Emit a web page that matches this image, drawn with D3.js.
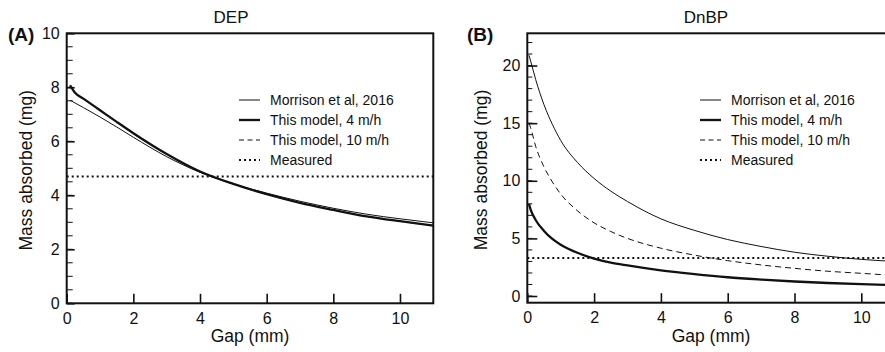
<!DOCTYPE html>
<html>
<head>
<meta charset="utf-8">
<script src="https://cdn.jsdelivr.net/npm/d3@7"></script>
<style>
  body { margin: 0; background: #fff; }
  svg { display: block; font-family: "Liberation Sans", Arial, sans-serif; }
</style>
</head>
<body>
<svg id="chart" width="885" height="352"></svg>
<script>
// Panel A (DEP)
const gapA = [0.1, 0.25, 0.5, 1, 1.5, 2, 3, 4, 5, 6, 7, 8, 9, 10, 11];
const morrisonA = [7.52, 7.42, 7.25, 6.90, 6.53, 6.15, 5.43, 4.85, 4.42, 4.08, 3.78, 3.52, 3.30, 3.13, 2.98];
const model4A = [8.07, 7.80, 7.58, 7.15, 6.72, 6.30, 5.53, 4.88, 4.42, 4.04, 3.72, 3.46, 3.22, 3.04, 2.88];
const model10A = [8.07, 7.80, 7.58, 7.15, 6.72, 6.30, 5.53, 4.88, 4.42, 4.04, 3.72, 3.46, 3.22, 3.04, 2.88];
const measuredA = 4.7;

// Panel B (DnBP)
const gapB = [0.05, 0.1, 0.25, 0.5, 0.75, 1, 1.5, 2, 2.5, 3, 4, 5, 6, 7, 8, 9, 10, 11];
const morrisonB = [20.9, 20.4, 18.8, 16.6, 14.9, 13.5, 11.6, 10.2, 9.1, 8.2, 6.7, 5.7, 4.9, 4.3, 3.8, 3.45, 3.18, 3.0];
const model4B = [8.0, 7.5, 6.6, 5.65, 4.95, 4.45, 3.75, 3.25, 2.9, 2.65, 2.22, 1.9, 1.63, 1.43, 1.26, 1.13, 1.03, 0.95];
const model10B = [15.0, 14.6, 13.0, 11.2, 9.9, 8.85, 7.4, 6.35, 5.6, 5.0, 4.15, 3.55, 3.07, 2.7, 2.4, 2.15, 1.97, 1.78];
const measuredB = 3.3;

const xTicks = [0, 2, 4, 6, 8, 10];
const yTicksA = [0, 2, 4, 6, 8, 10];
const yTicksB = [0, 5, 10, 15, 20];
const legendLabels = ["Morrison et al, 2016", "This model, 4 m/h", "This model, 10 m/h", "Measured"];

const lineStyles = [
    { width: 1, dash: null },
    { width: 2.3, dash: null },
    { width: 1, dash: "6,4" },
    { width: 2, dash: "2,3" }
];

const svg = d3.select("#chart");
const ink = "#111";

const Panel = (opts) => {
    const x = d3.scaleLinear().domain([0, 11]).range([opts.left, opts.right]);
    const y = d3.scaleLinear().domain(opts.yDomain).range([opts.bottom, opts.top]);
    const g = svg.append("g");

    const clipId = "clip" + opts.label;
    svg.append("clipPath").attr("id", clipId)
        .append("rect")
        .attr("x", opts.left).attr("y", opts.top)
        .attr("width", opts.right - opts.left).attr("height", opts.bottom - opts.top);

    // minor y ticks
    g.selectAll(".minor")
        .data(opts.minorTicks)
        .enter().append("line")
        .attr("x1", opts.left).attr("x2", opts.left + opts.minorLen)
        .attr("y1", d => y(d)).attr("y2", d => y(d))
        .attr("stroke", ink).attr("stroke-width", 1);

    const yAxis = g.append("g")
        .attr("transform", `translate(${opts.left},0)`)
        .call(d3.axisLeft(y).tickValues(opts.yTicks).tickSizeInner(-opts.majorLen).tickSizeOuter(0).tickPadding(7));
    yAxis.select(".domain").remove();
    yAxis.selectAll("line").attr("stroke", ink).attr("stroke-width", 1.6);
    yAxis.selectAll("text").attr("fill", ink).style("font-size", "16px").style("font-family", "inherit");

    const xAxis = g.append("g")
        .attr("transform", `translate(0,${opts.bottom})`)
        .call(d3.axisBottom(x).tickValues(xTicks).tickSizeInner(-9.5).tickSizeOuter(0).tickPadding(9));
    xAxis.select(".domain").remove();
    xAxis.selectAll("line").attr("stroke", ink).attr("stroke-width", 1.6);
    xAxis.selectAll("text").attr("fill", ink).style("font-size", "16px").style("font-family", "inherit");

    const line = d3.line()
        .x(d => x(d[0]))
        .y(d => y(d[1]))
        .curve(d3.curveMonotoneX);

    const plot = g.append("g").attr("clip-path", `url(#${clipId})`);
    const seriesOrder = [2, 0, 1];
    seriesOrder.forEach(i => {
        const values = opts.series[i];
        plot.append("path")
            .datum(opts.gap.map((gp, k) => [gp, values[k]]))
            .attr("d", line)
            .attr("fill", "none")
            .attr("stroke", ink)
            .attr("stroke-width", lineStyles[i].width)
            .attr("stroke-dasharray", lineStyles[i].dash);
    });
    plot.append("line")
        .attr("x1", opts.left).attr("x2", opts.right)
        .attr("y1", y(opts.measured)).attr("y2", y(opts.measured))
        .attr("stroke", ink).attr("stroke-width", 2).attr("stroke-dasharray", "2,3");

    // frame
    g.append("rect")
        .attr("x", opts.left).attr("y", opts.top)
        .attr("width", opts.right - opts.left).attr("height", opts.bottom - opts.top)
        .attr("fill", "none").attr("stroke", ink).attr("stroke-width", 2);

    // legend
    legendLabels.forEach((lab, i) => {
        const ly = opts.legendY + i * 20;
        g.append("line")
            .attr("x1", opts.legendX).attr("x2", opts.legendX + 21)
            .attr("y1", ly).attr("y2", ly)
            .attr("stroke", ink)
            .attr("stroke-width", i === 3 ? 2 : lineStyles[i].width)
            .attr("stroke-dasharray", i === 2 ? "5,3.5" : lineStyles[i].dash);
        g.append("text")
            .attr("x", opts.legendX + 31).attr("y", ly + 5)
            .attr("fill", ink)
            .style("font-size", "14px")
            .text(lab);
    });

    // texts
    g.append("text")
        .attr("x", opts.titleX).attr("y", 23)
        .attr("text-anchor", "middle").attr("fill", ink)
        .style("font-size", "17px")
        .text(opts.title);
    g.append("text")
        .attr("x", opts.labelX).attr("y", 41)
        .attr("fill", ink)
        .style("font-size", "19px").style("font-weight", "bold")
        .text(`(${opts.label})`);
    g.append("text")
        .attr("x", (opts.left + opts.right) / 2).attr("y", 342)
        .attr("text-anchor", "middle").attr("fill", ink)
        .style("font-size", "17.5px")
        .text("Gap (mm)");
    g.append("text")
        .attr("transform", `translate(${opts.yTitleX},${(opts.top + opts.bottom) / 2 + 2}) rotate(-90)`)
        .attr("text-anchor", "middle").attr("fill", ink)
        .style("font-size", "17.5px")
        .text("Mass absorbed (mg)");
};

Panel({
    label: "A", title: "DEP",
    left: 66.7, right: 433.3, top: 33.3, bottom: 303.3,
    yDomain: [0, 10], yTicks: yTicksA, minorTicks: d3.range(0, 10.01, 0.5),
    majorLen: 8, minorLen: 6,
    gap: gapA, series: [morrisonA, model4A, model10A], measured: measuredA,
    legendX: 239, legendY: 100, titleX: 231, labelX: 8, yTitleX: 32
});

Panel({
    label: "B", title: "DnBP",
    left: 527.3, right: 894.7, top: 33.3, bottom: 302.7,
    yDomain: [-0.58, 22.8], yTicks: yTicksB, minorTicks: d3.range(0, 22.5, 1),
    majorLen: 10, minorLen: 5,
    gap: gapB, series: [morrisonB, model4B, model10B], measured: measuredB,
    legendX: 700, legendY: 100, titleX: 706, labelX: 467, yTitleX: 487
});
</script>
</body>
</html>
